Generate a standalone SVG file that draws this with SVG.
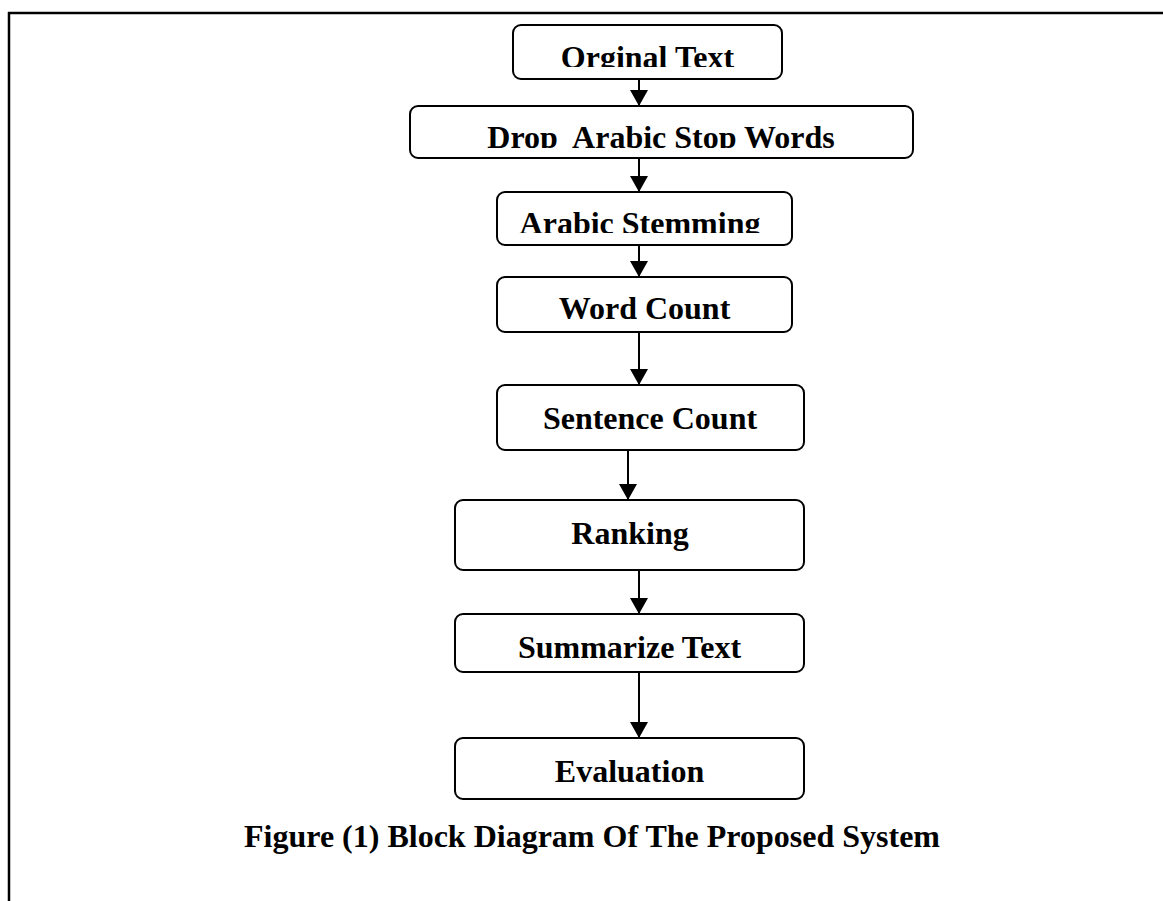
<svg xmlns="http://www.w3.org/2000/svg" width="1163" height="901" viewBox="0 0 1163 901">
<style>
.box{fill:#fff;stroke:#000;stroke-width:2}
.lbl{font-family:"Liberation Serif","Times New Roman",serif;font-weight:bold;font-size:32px;text-anchor:middle;fill:#000}
.cap{font-family:"Liberation Serif","Times New Roman",serif;font-weight:bold;font-size:32px;text-anchor:middle;fill:#000}
.conn{stroke:#000;stroke-width:2;fill:none;marker-end:url(#ah)}
</style>
<defs>
<marker id="ah" markerWidth="8" markerHeight="9" refX="8" refY="4.5" orient="auto" markerUnits="strokeWidth">
<path d="M0,0 L8,4.5 L0,9 Z" fill="#000"/>
</marker>
<clipPath id="c1"><rect x="513" y="25" width="269" height="42"/></clipPath>
<clipPath id="c2"><rect x="410" y="106" width="500" height="42"/></clipPath>
<clipPath id="c3"><rect x="497" y="192" width="295" height="41"/></clipPath>
</defs>
<rect width="1163" height="901" fill="#fff"/>
<g id="frame">
<line x1="8" y1="13" x2="1163" y2="13" stroke="#000" stroke-width="2.5"/>
<line x1="9" y1="12" x2="9" y2="901" stroke="#000" stroke-width="2.5"/>
</g>
<g id="connectors">
<line class="conn" x1="639" y1="79" x2="639" y2="106"/>
<line class="conn" x1="639" y1="158" x2="639" y2="192"/>
<line class="conn" x1="639" y1="245" x2="639" y2="277"/>
<line class="conn" x1="639" y1="332" x2="639" y2="385"/>
<line class="conn" x1="628" y1="450" x2="628" y2="500"/>
<line class="conn" x1="639" y1="570" x2="639" y2="614"/>
<line class="conn" x1="639" y1="672" x2="639" y2="738"/>
</g>
<g id="n1"><rect class="box" x="513" y="25" width="269" height="54" rx="8"/><text class="lbl" x="647.5" y="68" clip-path="url(#c1)">Orginal Text</text></g>
<g id="n2"><rect class="box" x="410" y="106" width="503" height="52" rx="8"/><text class="lbl" x="661" y="148" clip-path="url(#c2)" xml:space="preserve">Drop  Arabic Stop Words</text></g>
<g id="n3"><rect class="box" x="497" y="192" width="295" height="53" rx="8"/><text class="lbl" x="640" y="234" clip-path="url(#c3)">Arabic Stemming</text></g>
<g id="n4"><rect class="box" x="497" y="277" width="295" height="55" rx="8"/><text class="lbl" x="644.5" y="319">Word Count</text></g>
<g id="n5"><rect class="box" x="497" y="385" width="307" height="65" rx="8"/><text class="lbl" x="650" y="429">Sentence Count</text></g>
<g id="n6"><rect class="box" x="455" y="500" width="349" height="70" rx="8"/><text class="lbl" x="630" y="544">Ranking</text></g>
<g id="n7"><rect class="box" x="455" y="614" width="349" height="58" rx="8"/><text class="lbl" x="629.5" y="658">Summarize Text</text></g>
<g id="n8"><rect class="box" x="455" y="738" width="349" height="61" rx="8"/><text class="lbl" x="629.5" y="782">Evaluation</text></g>
<text class="cap" x="592" y="847">Figure (1) Block Diagram Of The Proposed System</text>
</svg>
